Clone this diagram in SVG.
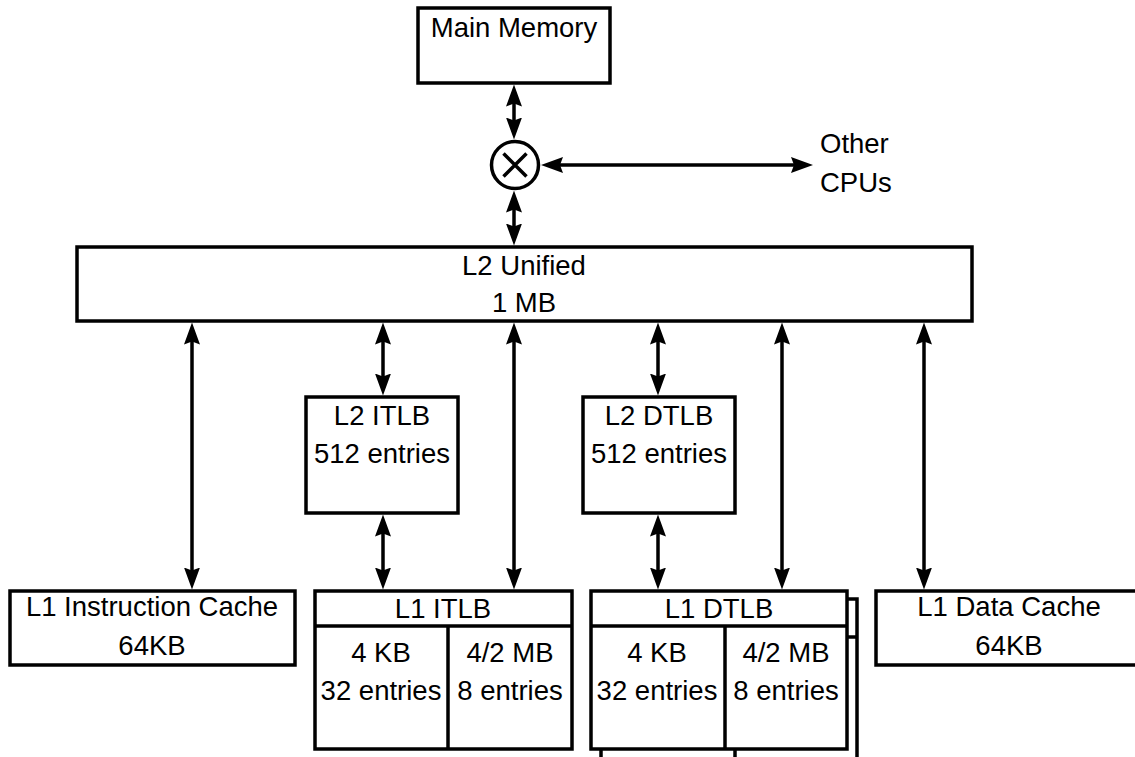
<svg xmlns="http://www.w3.org/2000/svg" width="1135" height="757" viewBox="0 0 1135 757">
<style>
.box{fill:#fff;stroke:#000;stroke-width:3.5}
.ln{fill:none;stroke:#000;stroke-width:3.5}
.conn{stroke:#000;stroke-width:3.5;fill:none;marker-start:url(#ah);marker-end:url(#ah)}
text{font-family:"Liberation Sans",Arial,sans-serif;font-size:27.5px;fill:#000;text-anchor:middle}
.l{text-anchor:start}
</style>
<defs>
<marker id="ah" viewBox="0 -8 22 16" markerWidth="22" markerHeight="16" refX="15" refY="0" orient="auto-start-reverse" markerUnits="userSpaceOnUse">
<path d="M0,-8 L22,0 L0,8 L3,0 z" fill="#000"/>
</marker>
</defs>
<rect width="1135" height="757" fill="#fff"/>

<g id="connectors">
<line class="conn" x1="514" y1="91.5" x2="514" y2="132.5"/>
<line class="conn" x1="514" y1="197.5" x2="514" y2="238.5"/>
<line class="conn" x1="548" y1="165" x2="806" y2="165"/>
<line class="conn" x1="192" y1="329.5" x2="192" y2="582.5"/>
<line class="conn" x1="383" y1="329.5" x2="383" y2="388.5"/>
<line class="conn" x1="514" y1="329.5" x2="514" y2="582.5"/>
<line class="conn" x1="658" y1="329.5" x2="658" y2="388.5"/>
<line class="conn" x1="782" y1="329.5" x2="782" y2="582.5"/>
<line class="conn" x1="924" y1="329.5" x2="924" y2="582.5"/>
<line class="conn" x1="383" y1="521.5" x2="383" y2="582.5"/>
<line class="conn" x1="658" y1="521.5" x2="658" y2="582.5"/>
</g>

<g id="main-memory">
<rect class="box" x="418" y="8" width="192" height="75"/>
<text x="514" y="37">Main Memory</text>
</g>

<g id="crossbar">
<circle class="box" cx="515" cy="165" r="23.5"/>
<path class="ln" d="M503.5,153.5 L526.5,176.5 M526.5,153.5 L503.5,176.5" stroke-width="3"/>
</g>

<g id="other-cpus">
<text class="l" x="820" y="153">Other</text>
<text class="l" x="820" y="192">CPUs</text>
</g>

<g id="l2-unified">
<rect class="box" x="77" y="247" width="895" height="74"/>
<text x="524" y="275">L2 Unified</text>
<text x="524" y="312">1 MB</text>
</g>

<g id="l2-itlb">
<rect class="box" x="306" y="397" width="152" height="116"/>
<text x="382" y="425">L2 ITLB</text>
<text x="382" y="463">512 entries</text>
</g>

<g id="l2-dtlb">
<rect class="box" x="583" y="397" width="152" height="116"/>
<text x="659" y="425">L2 DTLB</text>
<text x="659" y="463">512 entries</text>
</g>

<g id="l1-icache">
<rect class="box" x="10" y="591" width="285" height="74"/>
<text x="152" y="616">L1 Instruction Cache</text>
<text x="152" y="655">64KB</text>
</g>

<g id="l1-itlb">
<rect class="box" x="315" y="591" width="257" height="158"/>
<line class="ln" x1="315" y1="626" x2="572" y2="626"/>
<line class="ln" x1="448" y1="626" x2="448" y2="749"/>
<text x="443" y="618">L1 ITLB</text>
<text x="381" y="662">4 KB</text>
<text x="381" y="700">32 entries</text>
<text x="510" y="662">4/2 MB</text>
<text x="510" y="700">8 entries</text>
</g>

<g id="l1-dtlb">
<rect class="box" x="601" y="599" width="256" height="175"/>
<line class="ln" x1="601" y1="637" x2="857" y2="637"/>
<line class="ln" x1="735" y1="637" x2="735" y2="774"/>
<rect class="box" x="591" y="591" width="256" height="158"/>
<line class="ln" x1="591" y1="626" x2="847" y2="626"/>
<line class="ln" x1="725" y1="626" x2="725" y2="749"/>
<text x="719" y="618">L1 DTLB</text>
<text x="657" y="662">4 KB</text>
<text x="657" y="700">32 entries</text>
<text x="786" y="662">4/2 MB</text>
<text x="786" y="700">8 entries</text>
</g>

<g id="l1-dcache">
<rect class="box" x="876" y="591" width="270" height="74"/>
<text x="1009" y="616">L1 Data Cache</text>
<text x="1009" y="655">64KB</text>
</g>
</svg>
